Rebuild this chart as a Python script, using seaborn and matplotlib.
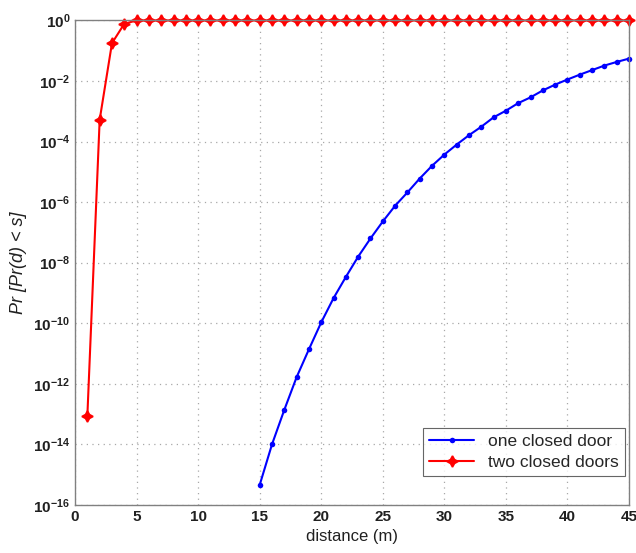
import numpy as np
import pandas as pd
import matplotlib
matplotlib.use("Agg")
import matplotlib.pyplot as plt
import seaborn as sns

# log10 of probabilities
one_door_x = list(range(15, 46))
one_door_log = [-15.34, -14.0, -12.86, -11.78, -10.86, -9.97, -9.17, -8.47, -7.80, -7.20,
                -6.64, -6.12, -5.68, -5.22, -4.80, -4.43, -4.10, -3.79, -3.51, -3.20,
                -2.98, -2.73, -2.54, -2.31, -2.12, -1.95, -1.79, -1.64, -1.49, -1.37, -1.26]
two_doors_x = list(range(1, 46))
two_doors_log = [-13.06, -3.28, -0.75, -0.11] + [0.0] * 41

df = pd.concat([
    pd.DataFrame({'distance': one_door_x, 'p': 10.0 ** np.array(one_door_log),
                  'series': 'one closed door'}),
    pd.DataFrame({'distance': two_doors_x, 'p': 10.0 ** np.array(two_doors_log),
                  'series': 'two closed doors'}),
])

sns.set_style('white')
plt.rcParams['font.family'] = ['Liberation Sans', 'DejaVu Sans']
plt.rcParams['mathtext.default'] = 'regular'

fig = plt.figure(figsize=(6.36, 5.53), dpi=100)
ax = fig.add_axes([0.118, 0.087, 0.871, 0.876])

sns.lineplot(data=df[df.series == 'one closed door'], x='distance', y='p', ax=ax,
             color='#0000ff', marker='o', markersize=4, markeredgewidth=0,
             linewidth=1.5, label='one closed door')
sns.lineplot(data=df[df.series == 'two closed doors'], x='distance', y='p', ax=ax,
             color='#ff0000', marker=(4, 1, 0), markersize=8, markeredgewidth=1.2,
             markeredgecolor='#ff0000', linewidth=1.5, label='two closed doors')
for ln in ax.lines:
    ln.set_clip_on(False)

ax.set_yscale('log')
ax.set_xlim(0, 45)
ax.set_ylim(1e-16, 1)
ax.set_xticks(range(0, 46, 5))
ax.set_yticks([10.0 ** e for e in range(-16, 1, 2)])
ax.yaxis.set_minor_locator(matplotlib.ticker.NullLocator())
ax.tick_params(direction='in', length=5, color='#808080', labelsize=11, width=0.8)
for t in ax.get_xticklabels() + ax.get_yticklabels():
    t.set_fontweight('bold')
    t.set_color('#202020')
for s in ax.spines.values():
    s.set_color('#808080')
    s.set_linewidth(1.0)
ax.grid(True, which='major', linestyle=(0, (1, 3.5)), color='#a8a8a8', linewidth=0.9)
ax.set_axisbelow(True)

ax.set_xlabel('distance (m)', fontsize=12, color='#202020')
ax.set_ylabel('Pr [Pr(d) < s]', fontsize=13, style='italic', color='#202020')

leg = ax.legend(loc='lower right', bbox_to_anchor=(0.993, 0.06), frameon=True,
                fancybox=False, edgecolor='#404040', borderaxespad=0.0,
                handlelength=2.6, borderpad=0.35, labelspacing=0.3,
                prop={'size': 12.5})
leg.get_frame().set_linewidth(0.8)

fig.savefig('out.png', dpi=100)
